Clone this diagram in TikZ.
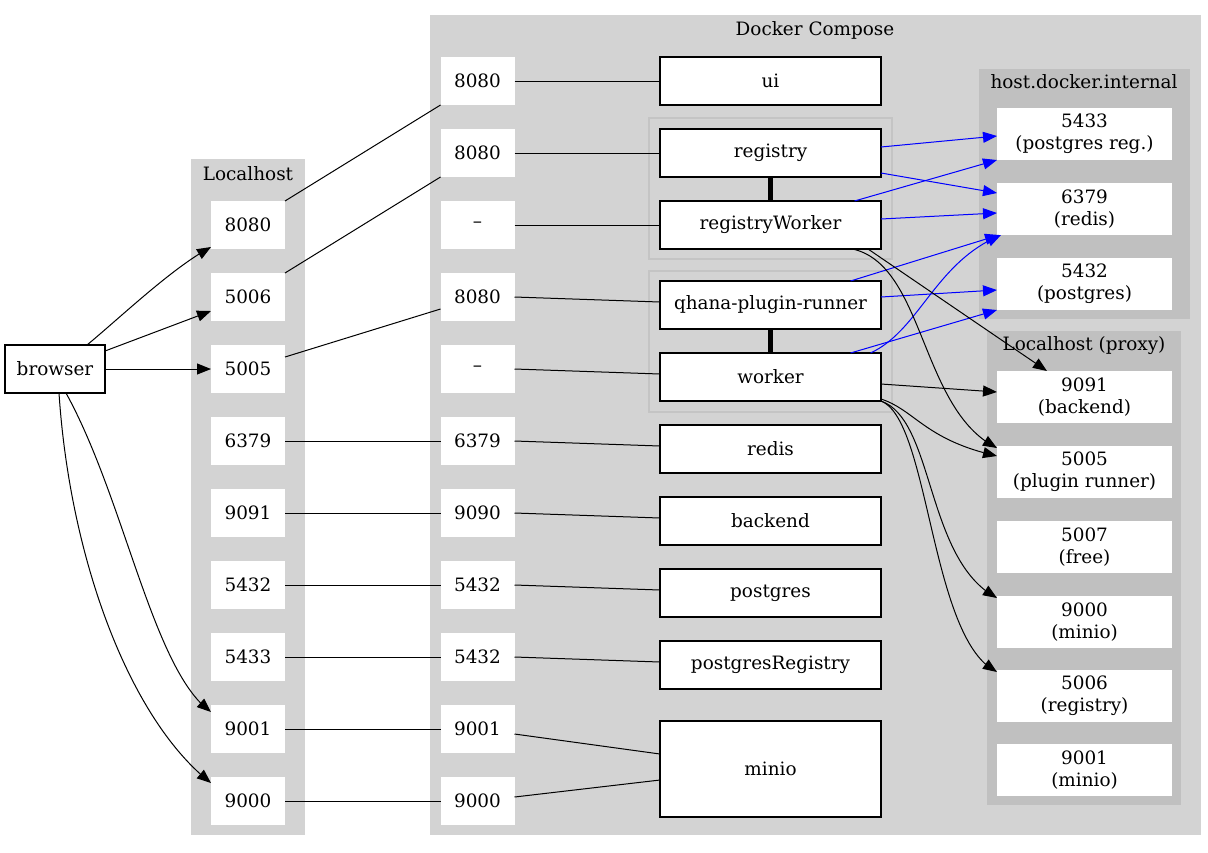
\documentclass[tikz,border=0pt]{standalone}
\usepackage{fontspec}
\setmainfont{DejaVu Serif}
\usetikzlibrary{arrows.meta,calc,bending}
\definecolor{clA}{HTML}{D3D3D3}
\definecolor{clB}{HTML}{C0C0C0}
\definecolor{subb}{HTML}{C4C4C4}
\newcommand\myfnt{\fontsize{9.2}{11}\selectfont}
\begin{document}
\begin{tikzpicture}[x=0.5pt,y=-0.5pt,
  every node/.style={font=\myfnt, inner sep=0pt, outer sep=0pt},
  port/.style={fill=white, minimum width=37pt, minimum height=24pt},
  svc/.style={draw=black, fill=white, line width=0.6pt, minimum width=110.5pt, minimum height=24pt},
  ext/.style={fill=white, minimum width=87.5pt, minimum height=26pt, align=center},
  title/.style={},
  edge/.style={line width=0.5pt},
  arr/.style={edge, -{Triangle[length=7pt,width=5.5pt,flex]}},
  blu/.style={arr, draw=blue},
  bond/.style={line width=2.2pt}]
\useasboundingbox (0,0) rectangle (1208,852);
% clusters
\fill[clA] (191,159) rectangle (305,835);
\fill[clA] (430,15) rectangle (1201,835);
\draw[subb, line width=0.6pt] (649,118) rectangle (892,259);
\draw[subb, line width=0.6pt] (649,271) rectangle (892,412);
\fill[clB] (979,69) rectangle (1190,319);
\fill[clB] (987,331) rectangle (1181,805);
% titles
\node[title] (tLocal) at (248,174) {Localhost};
\node[title] (tDocker) at (815,30) {Docker Compose};
\node[title] (tHost) at (1084,82) {host.docker.internal};
\node[title] (tProxy) at (1084,346) {Localhost (proxy)};
% browser
\node[draw=black, fill=white, line width=0.6pt, minimum width=50pt, minimum height=24pt] (browser) at (55,369) {browser};
% localhost ports
\node[port] (L8080) at (248,225) {8080};
\node[port] (L5006) at (248,297) {5006};
\node[port] (L5005) at (248,369) {5005};
\node[port] (L6379) at (248,441) {6379};
\node[port] (L9091) at (248,513) {9091};
\node[port] (L5432) at (248,585) {5432};
\node[port] (L5433) at (248,657) {5433};
\node[port] (L9001) at (248,729) {9001};
\node[port] (L9000) at (248,801) {9000};
% docker ports
\node[port] (D1) at (477.5,81) {8080};
\node[port] (D2) at (477.5,153) {8080};
\node[port] (D3) at (477.5,225) {–};
\node[port] (D4) at (477.5,297) {8080};
\node[port] (D5) at (477.5,369) {–};
\node[port] (D6) at (477.5,441) {6379};
\node[port] (D7) at (477.5,513) {9090};
\node[port] (D8) at (477.5,585) {5432};
\node[port] (D9) at (477.5,657) {5432};
\node[port] (D10) at (477.5,729) {9001};
\node[port] (D11) at (477.5,801) {9000};
% services
\node[svc] (ui) at (770.5,81) {ui};
\node[svc] (registry) at (770.5,153) {registry};
\node[svc] (rworker) at (770.5,225) {registryWorker};
\node[svc] (qhana) at (770.5,305) {qhana-plugin-runner};
\node[svc] (worker) at (770.5,377) {worker};
\node[svc] (redis) at (770.5,449) {redis};
\node[svc] (backend) at (770.5,521) {backend};
\node[svc] (postgres) at (770.5,593) {postgres};
\node[svc] (pgreg) at (770.5,665) {postgresRegistry};
\node[svc, minimum height=48pt] (minio) at (770.5,769) {minio};
% host.docker.internal
\node[ext] (h5433) at (1084.5,134) {5433\\(postgres reg.)};
\node[ext] (h6379) at (1084.5,209) {6379\\(redis)};
\node[ext] (h5432) at (1084.5,284) {5432\\(postgres)};
% proxy
\node[ext] (p9091) at (1084.5,397) {9091\\(backend)};
\node[ext] (p5005) at (1084.5,472) {5005\\(plugin runner)};
\node[ext] (p5007) at (1084.5,547) {5007\\(free)};
\node[ext] (p9000) at (1084.5,622) {9000\\(minio)};
\node[ext] (p5006) at (1084.5,696) {5006\\(registry)};
\node[ext] (p9001) at (1084.5,770) {9001\\(minio)};
% browser -> localhost
\draw[arr] ([xshift=16pt]browser.north) .. controls (122,316) and (172,268) .. ([yshift=1pt]L8080.south west);
\draw[arr] ([yshift=-3pt]browser.north east) -- ([yshift=-7pt]L5006.west);
\draw[arr] (browser.east) -- (L5005.west);
\draw[arr] ([xshift=5.5pt]browser.south) .. controls (125,500) and (153,671) .. ([yshift=8.5pt]L9001.west);
\draw[arr] ([xshift=2pt]browser.south) .. controls (70,560) and (130,720) .. ([yshift=9pt]L9000.west);
% localhost -> docker ports
\draw[edge] (L8080.north east) -- (D1.south west);
\draw[edge] (L5006.north east) -- (D2.south west);
\draw[edge] ([yshift=6pt]L5005.east) -- ([yshift=-6pt]D4.west);
\draw[edge] (L6379.east) -- (D6.west);
\draw[edge] (L9091.east) -- (D7.west);
\draw[edge] (L5432.east) -- (D8.west);
\draw[edge] (L5433.east) -- (D9.west);
\draw[edge] (L9001.east) -- (D10.west);
\draw[edge] (L9000.east) -- (D11.west);
% docker ports -> services
\draw[edge] (D1.east) -- (ui.west);
\draw[edge] (D2.east) -- (registry.west);
\draw[edge] (D3.east) -- (rworker.west);
\draw[edge] (D4.east) -- ([yshift=1.5pt]qhana.west);
\draw[edge] (D5.east) -- ([yshift=1.5pt]worker.west);
\draw[edge] (D6.east) -- ([yshift=1.5pt]redis.west);
\draw[edge] (D7.east) -- ([yshift=1.5pt]backend.west);
\draw[edge] (D8.east) -- ([yshift=1.5pt]postgres.west);
\draw[edge] (D9.east) -- ([yshift=1.5pt]pgreg.west);
\draw[edge] ([yshift=-2.5pt]D10.east) -- ([yshift=7.5pt]minio.west);
\draw[edge] ([yshift=2pt]D11.east) -- ([yshift=-5.5pt]minio.west);
% bonds
\draw[bond] (registry.south) -- (rworker.north);
\draw[bond] (qhana.south) -- (worker.north);
% blue edges
\draw[blu] ([yshift=3pt]registry.east) -- ([yshift=-1pt]h5433.west);
\draw[blu] ([yshift=-10pt]registry.east) -- ([yshift=8pt]h6379.west);
\draw[blu] ([xshift=42pt]rworker.north) -- (h5433.south west);
\draw[blu] ([yshift=3pt]rworker.east) -- ([yshift=-2pt]h6379.west);
\draw[blu] ([xshift=40pt]qhana.north) -- ([xshift=1pt]h6379.south west);
\draw[blu] ([yshift=4pt]qhana.east) -- ([yshift=-3pt]h5432.west);
\draw[blu] ([xshift=40pt]worker.north) -- (h5432.south west);
\draw[blu] ([xshift=50pt]worker.north) .. controls (920,330) and (935,262) .. ([xshift=2pt]h6379.south west);
% black edges to proxy
\draw[arr] ([xshift=48.75pt]rworker.south) -- ([xshift=-18.75pt]p9091.north);
\draw[arr] ([xshift=41pt]rworker.south) .. controls (925,265) and (920,410) .. ([yshift=-1pt]p5005.north west);
\draw[arr] ([yshift=-3.5pt]worker.east) -- ([yshift=2.5pt]p9091.west);
\draw[arr] ([yshift=1pt]worker.south east) .. controls (915,410) and (925,440) .. ([yshift=8pt]p5005.west);
\draw[arr] (worker.south east) .. controls (935,420) and (925,560) .. ([yshift=-1pt]p9000.north west);
\draw[arr] (worker.south east) .. controls (930,420) and (930,640) .. ([yshift=-1pt]p5006.north west);
\end{tikzpicture}
\end{document}
